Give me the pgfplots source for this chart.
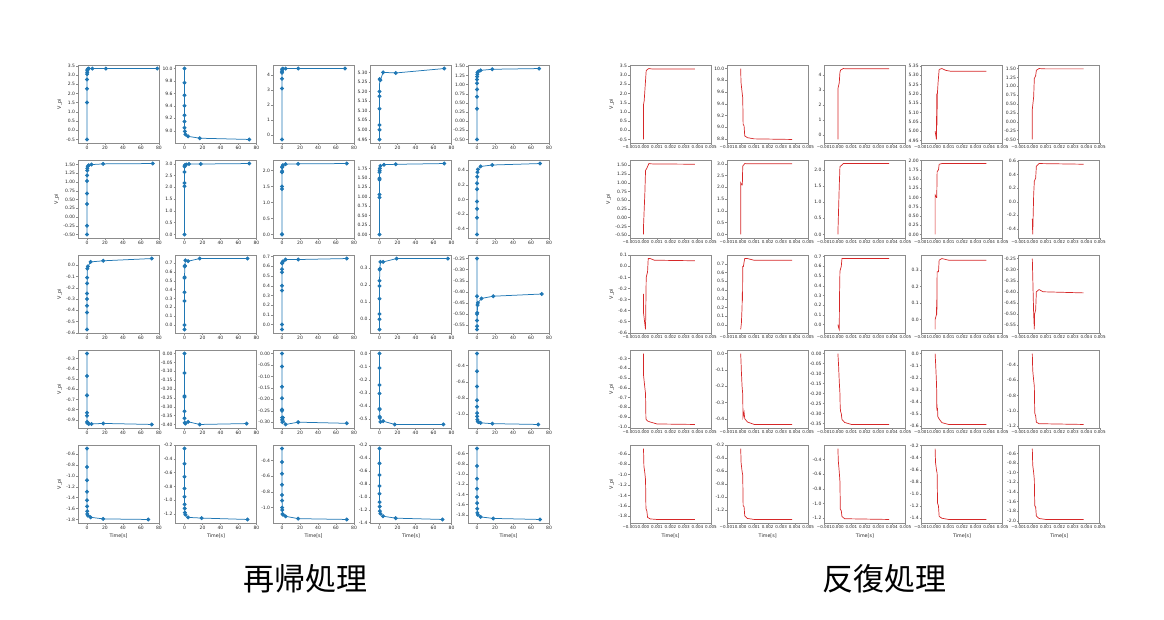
\documentclass[border=0pt]{standalone}
\usepackage{fontspec}
\setmainfont{DejaVu Sans}
\newfontfamily\cjk{Noto Sans CJK JP}
\usepackage{pgfplots}
\pgfplotsset{compat=1.18}
\definecolor{mplblue}{HTML}{1F77B4}
\definecolor{mplred}{HTML}{D62728}
\definecolor{framec}{HTML}{8C8C8C}
\pgfplotsset{
 base/.style={
  scale only axis, width=81pt, height=78pt, anchor=north west,
  axis line style={framec, line width=0.7pt},
  tick style={framec, line width=0.4pt},
  tick align=outside, major tick length=1.8pt,
  tick pos=left,
  ticklabel style={font=\fontsize{4.5}{5}\selectfont, text=black!85, inner sep=0.9pt},
  label style={font=\fontsize{4.8}{5}\selectfont, text=black!85},
  /pgf/number format/assume math mode=true,
  scaled y ticks=false, scaled x ticks=false,
  enlarge y limits=0.05, enlarge x limits=false,
 },
 lefts/.style={xmin=-10,xmax=80,xtick={0,20,40,60,80}},
 rights/.style={xmin=-0.001,xmax=0.005,xtick={-0.001,0,0.001,0.002,0.003,0.004,0.005},
   xticklabels={−0.001,0.000,0.001,0.002,0.003,0.004,0.005},
   xticklabel style={font=\fontsize{4.05}{5}\selectfont}},
 p0/.style={yticklabel style={/pgf/number format/fixed,/pgf/number format/precision=0}},
 p1/.style={yticklabel style={/pgf/number format/fixed,/pgf/number format/fixed zerofill,/pgf/number format/precision=1}},
 p2/.style={yticklabel style={/pgf/number format/fixed,/pgf/number format/fixed zerofill,/pgf/number format/precision=2}},
 recstyle/.style={mplblue, line width=0.75pt, mark=*, mark size=1.6pt, mark options={solid, fill=mplblue, draw=mplblue}},
 itstyle/.style={mplred, line width=0.7pt, no marks},
}
\newcommand{\rec}[4]{%
 \pgfmathsetmacro\px{78+97.5*(#1-1)}%
 \pgfmathsetmacro\py{65+95*(#2-1)}%
 \pgfplotsset{curlab/.style={}}%
 \ifnum#1=1 \pgfplotsset{curlab/.append style={ylabel={V\_pi}}}\fi
 \ifnum#2=5 \pgfplotsset{curlab/.append style={xlabel={Time[s]}}}\fi
 \begin{axis}[base,lefts,curlab,at={(\px pt,-\py pt)},#3]
 \addplot[recstyle] coordinates {#4};
 \end{axis}}
\newcommand{\itr}[4]{%
 \pgfmathsetmacro\px{630+97.2*(#1-1)}%
 \pgfmathsetmacro\py{65+95*(#2-1)}%
 \pgfplotsset{curlab/.style={}}%
 \ifnum#1=1 \pgfplotsset{curlab/.append style={ylabel={V\_pi}}}\fi
 \ifnum#2=5 \pgfplotsset{curlab/.append style={xlabel={Time[s]}}}\fi
 \begin{axis}[base,rights,curlab,at={(\px pt,-\py pt)},#3]
 \addplot[itstyle] coordinates {#4};
 \end{axis}}
\begin{document}
\begin{tikzpicture}
\path[use as bounding box] (0,0) rectangle (1164pt,-620pt);
% ===== recursive (left) =====
\rec{1}{1}{p1,ytick={-0.5,0,0.5,1,1.5,2,2.5,3,3.5}}{(0,-0.5)(0,1.5)(0,2.25)(0,2.75)(0.1,3.05)(0.2,3.15)(0.3,3.25)(0.5,3.3)(1,3.33)(2,3.35)(6,3.35)(21,3.35)(78,3.35)}
\rec{2}{1}{p1,ytick={8.8,9.0,9.2,9.4,9.6,9.8,10.0}}{(0,10.0)(0,9.77)(0,9.57)(0,9.40)(0,9.25)(0,9.15)(0,9.05)(0.3,8.99)(1,8.94)(4,8.91)(17,8.88)(72,8.86)}
\rec{3}{1}{p0,ytick={0,1,2,3,4}}{(0,-0.3)(0,3.1)(0,3.75)(0,4.15)(0.1,4.25)(0.2,4.35)(0.4,4.4)(1,4.42)(4,4.43)(18,4.43)(70,4.43)}
\rec{4}{1}{p2,ytick={4.95,5.0,5.05,5.1,5.15,5.2,5.25,5.3}}{(0,4.95)(0,5.0)(0,5.025)(0,5.11)(0,5.175)(0,5.20)(0.2,5.265)(1,5.26)(4,5.30)(18,5.297)(72,5.32)}
\rec{5}{1}{p2,ytick={-0.5,-0.25,0,0.25,0.5,0.75,1,1.25,1.5}}{(0,-0.5)(0,0.34)(0,0.67)(0,0.87)(0,1.04)(0.1,1.14)(0.2,1.22)(0.3,1.28)(0.6,1.33)(1.5,1.36)(4,1.39)(17,1.42)(69,1.44)}
\rec{1}{2}{p2,ytick={-0.5,-0.25,0,0.25,0.5,0.75,1,1.25,1.5}}{(0,-0.5)(0,-0.25)(0,0.37)(0,0.67)(0,1.03)(0.1,1.19)(0.2,1.33)(0.4,1.39)(0.8,1.45)(2,1.48)(5,1.50)(18,1.52)(73,1.53)}
\rec{2}{2}{p1,ytick={0,0.5,1,1.5,2,2.5,3}}{(0,0.0)(0,2.05)(0,2.18)(0,2.65)(0.1,2.88)(0.3,2.92)(0.6,2.95)(2,2.97)(5,2.99)(18,2.99)(72,3.01)}
\rec{3}{2}{p1,ytick={0,0.5,1,1.5,2}}{(0,0.0)(0,0.01)(0,1.42)(0,1.5)(0,1.95)(0.1,1.98)(0.2,2.1)(0.4,2.13)(1,2.17)(4,2.2)(18,2.21)(72,2.22)}
\rec{4}{2}{p2,ytick={0,0.25,0.5,0.75,1,1.25,1.5,1.75}}{(0,0.0)(0,0.98)(0,1.06)(0,1.45)(0,1.49)(0.1,1.65)(0.2,1.7)(0.4,1.75)(1,1.82)(5,1.85)(18,1.86)(72,1.88)}
\rec{5}{2}{p1,ytick={-0.4,-0.2,0,0.2,0.4}}{(0,-0.48)(0,-0.25)(0,-0.13)(0,-0.03)(0,0.14)(0.1,0.22)(0.2,0.31)(0.5,0.37)(1,0.41)(4,0.45)(17,0.47)(70,0.49)}
\rec{1}{3}{p1,ytick={-0.6,-0.5,-0.4,-0.3,-0.2,-0.1,0}}{(0,-0.57)(0,-0.42)(0,-0.36)(0,-0.30)(0,-0.25)(0.1,-0.16)(0.2,-0.11)(0.4,-0.03)(1,-0.01)(4,0.03)(18,0.04)(72,0.06)}
\rec{2}{3}{p1,ytick={0,0.1,0.2,0.3,0.4,0.5,0.6,0.7}}{(0,-0.05)(0,0.0)(0,0.27)(0,0.37)(0,0.53)(0.1,0.54)(0.2,0.66)(0.4,0.67)(1,0.73)(4,0.72)(17,0.75)(70,0.75)}
\rec{3}{3}{p1,ytick={0,0.1,0.2,0.3,0.4,0.5,0.6,0.7}}{(0,-0.05)(0,0.0)(0,0.35)(0,0.40)(0,0.54)(0.1,0.57)(0.2,0.63)(0.4,0.64)(1,0.65)(4,0.67)(18,0.67)(72,0.68)}
\rec{4}{3}{p1,ytick={0,0.1,0.2,0.3}}{(0,-0.06)(0,0.0)(0,0.03)(0,0.12)(0,0.195)(0.1,0.225)(0.2,0.29)(0.4,0.295)(1,0.335)(4,0.335)(19,0.355)(76,0.355)}
\rec{5}{3}{p2,ytick={-0.55,-0.5,-0.45,-0.4,-0.35,-0.3,-0.25}}{(0,-0.25)(0,-0.42)(0,-0.50)(0,-0.53)(0,-0.555)(0,-0.57)(0.3,-0.495)(0.6,-0.46)(1,-0.45)(5,-0.43)(18,-0.42)(72,-0.41)}
\rec{1}{4}{p1,ytick={-0.9,-0.8,-0.7,-0.6,-0.5,-0.4,-0.3}}{(0,-0.25)(0,-0.47)(0,-0.66)(0,-0.83)(0,-0.86)(0.1,-0.92)(0.3,-0.93)(1,-0.93)(2,-0.94)(5,-0.94)(18,-0.935)(72,-0.945)}
\rec{2}{4}{p2,ytick={-0.4,-0.35,-0.3,-0.25,-0.2,-0.15,-0.1,-0.05,0}}{(0,0.0)(0,-0.11)(0,-0.24)(0,-0.245)(0,-0.325)(0.1,-0.365)(0.3,-0.39)(1,-0.395)(4,-0.385)(17,-0.40)(69,-0.395)}
\rec{3}{4}{p2,ytick={-0.3,-0.25,-0.2,-0.15,-0.1,-0.05,0}}{(0,0.0)(0,-0.057)(0,-0.145)(0,-0.195)(0,-0.245)(0,-0.25)(0.1,-0.28)(0.2,-0.29)(0.4,-0.30)(1,-0.28)(4,-0.31)(18,-0.30)(72,-0.305)}
\rec{4}{4}{p1,ytick={-0.5,-0.4,-0.3,-0.2,-0.1,0}}{(0,0.0)(0,-0.11)(0,-0.24)(0,-0.305)(0,-0.42)(0.1,-0.425)(0.2,-0.48)(0.4,-0.49)(1,-0.52)(4,-0.515)(17,-0.54)(71,-0.54)}
\rec{5}{4}{p1,ytick={-1.0,-0.8,-0.6,-0.4}}{(0,-0.25)(0,-0.47)(0,-0.66)(0,-0.83)(0,-0.91)(0.1,-0.99)(0.2,-1.03)(0.4,-1.07)(0.8,-1.09)(1.5,-1.10)(4,-1.11)(17,-1.12)(68,-1.13)}
\rec{1}{5}{p1,ytick={-1.8,-1.6,-1.4,-1.2,-1.0,-0.8,-0.6}}{(0,-0.5)(0,-0.84)(0,-1.08)(0,-1.29)(0,-1.45)(0.1,-1.56)(0.2,-1.65)(0.4,-1.70)(1,-1.73)(4,-1.76)(18,-1.79)(68,-1.80)}
\rec{2}{5}{p1,ytick={-1.2,-1.0,-0.8,-0.6,-0.4,-0.2}}{(0,-0.25)(0,-0.47)(0,-0.66)(0,-0.83)(0,-0.95)(0.1,-1.06)(0.2,-1.12)(0.4,-1.18)(1,-1.21)(4,-1.25)(19,-1.26)(70,-1.28)}
\rec{3}{5}{p1,ytick={-1.2,-1.0,-0.8,-0.6,-0.4}}{(0,-0.25)(0,-0.42)(0,-0.57)(0,-0.71)(0,-0.84)(0.1,-0.91)(0.2,-1.0)(0.3,-1.03)(0.5,-1.08)(1,-1.09)(4,-1.11)(18,-1.14)(72,-1.15)}
\rec{4}{5}{p1,ytick={-1.4,-1.2,-1.0,-0.8,-0.6,-0.4,-0.2}}{(0,-0.25)(0,-0.48)(0,-0.66)(0,-0.83)(0,-0.95)(0.1,-1.08)(0.2,-1.15)(0.4,-1.22)(1,-1.26)(4,-1.30)(18,-1.33)(70,-1.35)}
\rec{5}{5}{p1,ytick={-1.8,-1.6,-1.4,-1.2,-1.0,-0.8,-0.6}}{(0,-0.5)(0,-0.84)(0,-1.09)(0,-1.29)(0,-1.45)(0.1,-1.57)(0.2,-1.68)(0.4,-1.76)(1,-1.80)(4,-1.84)(18,-1.87)(70,-1.89)}
% ===== iterative (right) =====
\itr{1}{1}{p1,ytick={-0.5,0,0.5,1,1.5,2,2.5,3,3.5}}{(0,-0.5)(0,1.4)(0.00005,1.6)(0.00015,2.7)(0.0002,3.25)(0.0003,3.32)(0.0004,3.36)(0.0006,3.34)(0.001,3.33)(0.0038,3.33)}
\itr{2}{1}{p1,ytick={8.8,9.0,9.2,9.4,9.6,9.8,10.0}}{(0,10.0)(0.00002,9.77)(0.0001,9.6)(0.00015,9.5)(0.00018,9.05)(0.00025,9.02)(0.0003,8.85)(0.0005,8.82)(0.001,8.80)(0.0038,8.79)}
\itr{3}{1}{p0,ytick={0,1,2,3,4}}{(0,-0.3)(0,3.1)(0.0001,3.5)(0.00015,4.2)(0.0002,4.35)(0.0004,4.45)(0.0006,4.43)(0.0038,4.43)}
\itr{4}{1}{p2,ytick={4.95,5.0,5.05,5.1,5.15,5.2,5.25,5.3,5.35}}{(0,5.0)(0.0001,4.955)(0.00012,5.2)(0.00014,5.03)(0.00016,5.19)(0.00022,5.26)(0.0003,5.33)(0.0005,5.335)(0.0008,5.325)(0.0012,5.32)(0.0038,5.32)}
\itr{5}{1}{p2,ytick={-0.5,-0.25,0,0.25,0.5,0.75,1,1.25,1.5}}{(0,-0.5)(0,0.35)(0.0001,0.7)(0.00015,1.22)(0.00025,1.3)(0.0003,1.45)(0.0005,1.50)(0.001,1.49)(0.0038,1.49)}
\itr{1}{2}{p2,ytick={-0.5,-0.25,0,0.25,0.5,0.75,1,1.25,1.5}}{(0,-0.48)(0,-0.25)(0.0001,0.7)(0.00015,1.35)(0.00025,1.42)(0.0004,1.55)(0.0006,1.54)(0.0038,1.53)}
\itr{2}{2}{p1,ytick={0,0.5,1,1.5,2,2.5,3}}{(0,0.0)(0,2.2)(0.00005,2.15)(0.0001,2.1)(0.00012,2.1)(0.00015,2.9)(0.0003,3.01)(0.0005,3.0)(0.0038,3.0)}
\itr{3}{2}{p1,ytick={0,0.5,1,1.5,2}}{(0,0.0)(0,0.05)(0.0001,1.5)(0.00015,2.1)(0.0002,2.12)(0.0004,2.2)(0.0038,2.2)}
\itr{4}{2}{p2,ytick={0,0.25,0.5,0.75,1,1.25,1.5,1.75,2}}{(0,0.0)(0,1.07)(0.0001,1.0)(0.00012,1.0)(0.00015,1.7)(0.00025,1.75)(0.0003,1.9)(0.0005,1.92)(0.0038,1.92)}
\itr{5}{2}{p1,ytick={-0.4,-0.2,0,0.2,0.4,0.6}}{(0,-0.25)(0.00003,-0.48)(0.0001,0.1)(0.00015,0.3)(0.00025,0.35)(0.0003,0.52)(0.0005,0.56)(0.0038,0.55)}
\itr{1}{3}{p1,ytick={-0.6,-0.5,-0.4,-0.3,-0.2,-0.1,0,0.1}}{(0,-0.25)(0,-0.42)(0.00015,-0.57)(0.0002,-0.1)(0.0003,-0.05)(0.00035,0.07)(0.0005,0.07)(0.0008,0.055)(0.0038,0.05)}
\itr{2}{3}{p1,ytick={0,0.1,0.2,0.3,0.4,0.5,0.6,0.7}}{(0,-0.05)(0.00005,0.02)(0.0001,0.2)(0.00012,0.37)(0.00013,0.28)(0.00014,0.38)(0.00015,0.67)(0.0002,0.67)(0.00025,0.72)(0.0003,0.76)(0.0005,0.76)(0.001,0.74)(0.0038,0.74)}
\itr{3}{3}{p1,ytick={0,0.1,0.2,0.3,0.4,0.5,0.6,0.7}}{(0,0.0)(0.00005,-0.03)(0.0001,-0.05)(0.00012,0.3)(0.00015,0.55)(0.00025,0.6)(0.0003,0.68)(0.0005,0.68)(0.0038,0.68)}
\itr{4}{3}{p1,ytick={0,0.1,0.2,0.3}}{(0,-0.06)(0,0.0)(0.0001,0.03)(0.00012,0.12)(0.00013,0.03)(0.00015,0.29)(0.00025,0.29)(0.0003,0.36)(0.0005,0.37)(0.001,0.36)(0.0038,0.36)}
\itr{5}{3}{p2,ytick={-0.55,-0.5,-0.45,-0.4,-0.35,-0.3,-0.25}}{(0,-0.25)(0.0001,-0.50)(0.00015,-0.57)(0.00017,-0.5)(0.00025,-0.48)(0.0003,-0.40)(0.0005,-0.39)(0.0008,-0.40)(0.0038,-0.405)}
\itr{1}{4}{p1,ytick={-1.0,-0.9,-0.8,-0.7,-0.6,-0.5,-0.4,-0.3}}{(0,-0.25)(0,-0.47)(0.0001,-0.6)(0.00015,-0.66)(0.00018,-0.92)(0.0003,-0.94)(0.0005,-0.95)(0.001,-0.97)(0.0038,-0.975)}
\itr{2}{4}{p1,ytick={-0.4,-0.3,-0.2,-0.1,0}}{(0,0.0)(0.00005,-0.11)(0.0001,-0.2)(0.00015,-0.25)(0.00017,-0.39)(0.0002,-0.38)(0.00025,-0.36)(0.0003,-0.4)(0.0005,-0.42)(0.001,-0.435)(0.0038,-0.435)}
\itr{3}{4}{p2,ytick={-0.35,-0.3,-0.25,-0.2,-0.15,-0.1,-0.05,0}}{(0,0.0)(0.00005,-0.06)(0.0001,-0.14)(0.00015,-0.2)(0.00017,-0.27)(0.0002,-0.29)(0.00025,-0.30)(0.0003,-0.33)(0.0005,-0.345)(0.001,-0.355)(0.0038,-0.355)}
\itr{4}{4}{p1,ytick={-0.6,-0.5,-0.4,-0.3,-0.2,-0.1,0}}{(0,0.0)(0.00005,-0.11)(0.0001,-0.24)(0.00012,-0.32)(0.00013,-0.47)(0.00014,-0.42)(0.00016,-0.47)(0.00018,-0.45)(0.0002,-0.52)(0.0003,-0.54)(0.0005,-0.57)(0.001,-0.585)(0.0038,-0.585)}
\itr{5}{4}{p1,ytick={-1.2,-1.0,-0.8,-0.6,-0.4}}{(0,-0.25)(0.00003,-0.47)(0.0001,-0.6)(0.00015,-0.68)(0.00018,-1.03)(0.00025,-1.07)(0.0003,-1.15)(0.0005,-1.17)(0.0038,-1.18)}
\itr{1}{5}{p1,ytick={-1.8,-1.6,-1.4,-1.2,-1.0,-0.8,-0.6}}{(0,-0.5)(0.00003,-0.84)(0.0001,-0.97)(0.00015,-1.1)(0.00018,-1.65)(0.00025,-1.7)(0.0003,-1.82)(0.0005,-1.85)(0.001,-1.86)(0.0038,-1.86)}
\itr{2}{5}{p1,ytick={-1.2,-1.0,-0.8,-0.6,-0.4,-0.2}}{(0,-0.25)(0.00003,-0.47)(0.0001,-0.6)(0.00015,-0.66)(0.00018,-1.13)(0.00025,-1.15)(0.0003,-1.29)(0.0005,-1.33)(0.001,-1.345)(0.0038,-1.345)}
\itr{3}{5}{p1,ytick={-1.2,-1.0,-0.8,-0.6,-0.4}}{(0,-0.25)(0.00003,-0.42)(0.0001,-0.57)(0.00015,-0.7)(0.00018,-1.08)(0.00025,-1.1)(0.0003,-1.18)(0.0005,-1.21)(0.0038,-1.22)}
\itr{4}{5}{p1,ytick={-1.4,-1.2,-1.0,-0.8,-0.6,-0.4,-0.2}}{(0,-0.25)(0.00003,-0.48)(0.0001,-0.6)(0.00015,-0.66)(0.00018,-1.15)(0.00025,-1.2)(0.0003,-1.37)(0.0005,-1.40)(0.001,-1.42)(0.0038,-1.42)}
\itr{5}{5}{p1,ytick={-2.0,-1.8,-1.6,-1.4,-1.2,-1.0,-0.8,-0.6}}{(0,-0.5)(0.00003,-0.84)(0.0001,-1.0)(0.00015,-1.15)(0.00018,-1.68)(0.00025,-1.72)(0.0003,-1.9)(0.0005,-1.95)(0.001,-1.97)(0.0038,-1.97)}
% titles
\node[font=\cjk\fontsize{31}{34}\selectfont] at (305pt,-579pt) {再帰処理};
\node[font=\cjk\fontsize{31}{34}\selectfont] at (884pt,-579pt) {反復処理};
\end{tikzpicture}
\end{document}
